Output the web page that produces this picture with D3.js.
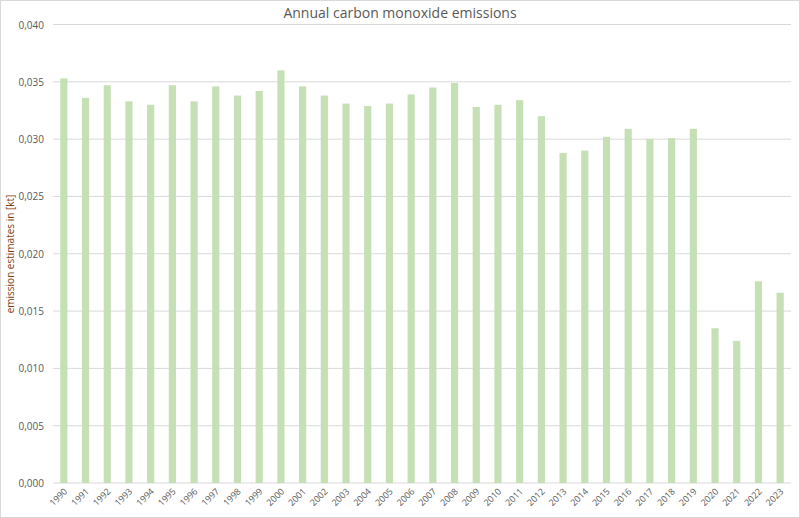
<!DOCTYPE html><html><head><meta charset="utf-8"><script src="https://cdn.jsdelivr.net/npm/d3@7"></script>
<style>body{margin:0;background:#fff}text{font-family:"Open Sans",Calibri,sans-serif}</style></head><body><svg id="c" width="800" height="518"></svg>
<script>
const years=d3.range(1990,2024).map(String);
const values=[0.0353,0.0336,0.0347,0.0333,0.0330,0.0347,0.0333,0.0346,0.0338,0.0342,0.0360,0.0346,0.0338,0.0331,0.0329,0.0331,0.0339,0.0345,0.0349,0.0328,0.0330,0.0334,0.0320,0.0288,0.0290,0.0302,0.0309,0.0300,0.0301,0.0309,0.0135,0.0124,0.0176,0.0166];
const yTicks=[0,0.005,0.01,0.015,0.02,0.025,0.03,0.035,0.04];
const svg=d3.select("#c");
svg.append("rect").attr("x",0.5).attr("y",0.5).attr("width",799).attr("height",517).attr("fill","#fff").attr("stroke","#d9d9d9");
const x=d3.scaleBand().domain(years).range([53,791]).paddingInner(0.67).paddingOuter(0.335);
const y=d3.scaleLinear().domain([0,0.04]).range([483,24.5]);
const fmt=v=>d3.format(".3f")(v).replace(".",",");
svg.append("g").selectAll("line").data(yTicks).join("line").attr("x1",53).attr("x2",791).attr("y1",d=>y(d)).attr("y2",d=>y(d)).attr("stroke","#d9d9d9");
svg.append("g").selectAll("text").data(yTicks).join("text").attr("x",44).attr("y",d=>y(d)+4).attr("text-anchor","end").attr("font-size",10).attr("fill","#595959").text(fmt);
svg.append("g").selectAll("rect").data(values).join("rect").attr("x",(d,i)=>x(years[i])).attr("width",x.bandwidth()).attr("y",d=>y(d)).attr("height",d=>y(0)-y(d)).attr("fill","#c5e0b4");
svg.append("g").selectAll("text").data(years).join("text").attr("transform",d=>`translate(${x(d)+x.bandwidth()/2+4},${492}) rotate(-45)`).attr("text-anchor","end").attr("font-size",9).attr("fill","#595959").text(d=>d);
svg.append("text").attr("x",400).attr("y",18).attr("text-anchor","middle").attr("font-size",14).attr("fill","#595959").text("Annual carbon monoxide emissions");
svg.append("text").attr("transform","translate(14,254) rotate(-90)").attr("text-anchor","middle").attr("font-size",10).attr("fill","#843c0c").text("emission estimates in [kt]");
</script></body></html>
